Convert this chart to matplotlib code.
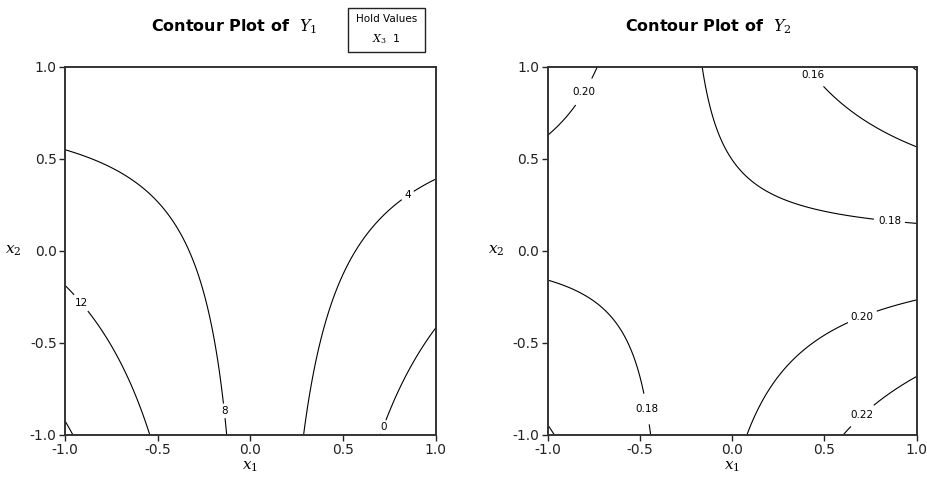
import numpy as np
import matplotlib
matplotlib.use("Agg")
import matplotlib.pyplot as plt
from matplotlib.patches import Rectangle

plt.rcParams['font.family'] = ['DejaVu Sans']
plt.rcParams['mathtext.fontset'] = 'dejavuserif'

# ---- data: fitted response-surface coefficients (x3 held at 1) ----
# model terms: const, x1, x2, x1*x2
y1_coef = [6.53, -4.45, -0.245, 5.19]
y2_coef = [0.1856, 0.00155, -0.01135, -0.0368]
y1_levels = [0, 4, 8, 12, 16]
y2_levels = [0.14, 0.16, 0.18, 0.20, 0.22]
tick_values = [-1.0, -0.5, 0.0, 0.5, 1.0]
hold_var = r'$\mathit{X}_3$'
hold_val = '1'

# label anchor points (layout)
y1_label_pos = [(0.70, -0.95), (0.85, 0.30), (-0.15, -0.87), (-0.91, -0.28)]
y2_label_pos = [(-0.80, 0.86), (0.42, 0.94), (0.85, 0.14), (-0.47, -0.86),
                (0.69, -0.32), (0.70, -0.89)]

g = np.linspace(-1, 1, 301)
X1, X2 = np.meshgrid(g, g)

def surface(c):
    return c[0] + c[1] * X1 + c[2] * X2 + c[3] * X1 * X2

fig = plt.figure(figsize=(9.27, 4.83), dpi=100)
ax1 = fig.add_axes([65 / 927, 1 - 435 / 483, 370.5 / 927, 368.5 / 483])
ax2 = fig.add_axes([547.7 / 927, 1 - 435 / 483, 369 / 927, 368.5 / 483])

panels = [
    (ax1, y1_coef, y1_levels, y1_label_pos, '%g'),
    (ax2, y2_coef, y2_levels, y2_label_pos, '%.2f'),
]

for ax, coef, levels, lab_pos, fmt in panels:
    Z = surface(coef)
    cs = ax.contour(X1, X2, Z, levels=levels, colors='black', linewidths=0.8)
    texts = ax.clabel(cs, manual=lab_pos, fmt=fmt, fontsize=7.5,
                      inline=True, inline_spacing=4)
    for t in texts:
        t.set_rotation(0)
    ax.set_xlim(-1, 1)
    ax.set_ylim(-1, 1)
    ax.set_xticks(tick_values)
    ax.set_yticks(tick_values)
    ax.set_xticklabels([f'{v:.1f}' for v in tick_values])
    ax.set_yticklabels([f'{v:.1f}' for v in tick_values])
    ax.tick_params(direction='out', length=4, width=1, labelsize=10,
                   colors='#222222', pad=2)
    for sp in ax.spines.values():
        sp.set_linewidth(1.4)
        sp.set_color('#333333')
    ax.set_xlabel(r'$\mathit{x}_1$', fontsize=11, labelpad=1)
    ax.set_ylabel(r'$\mathit{x}_2$', fontsize=11, rotation=0, labelpad=12,
                  va='center')

fig.text(234 / 927, 1 - 27 / 483, r'Contour Plot of  $\mathit{Y}_1$',
         ha='center', va='center', fontsize=11.5, fontweight='bold')
fig.text(708 / 927, 1 - 27 / 483, r'Contour Plot of  $\mathit{Y}_2$',
         ha='center', va='center', fontsize=11.5, fontweight='bold')

# hold values box
fig.patches.append(Rectangle((348 / 927, 1 - 52 / 483), 77 / 927, 44 / 483,
                             transform=fig.transFigure, fill=False,
                             edgecolor='#222222', linewidth=1.0))
fig.text(386.5 / 927, 1 - 19 / 483, 'Hold Values', ha='center', va='center',
         fontsize=7.5)
fig.text(386.5 / 927, 1 - 39 / 483, hold_var + '  ' + hold_val, ha='center',
         va='center', fontsize=8)

fig.savefig('out.png', dpi=100)
